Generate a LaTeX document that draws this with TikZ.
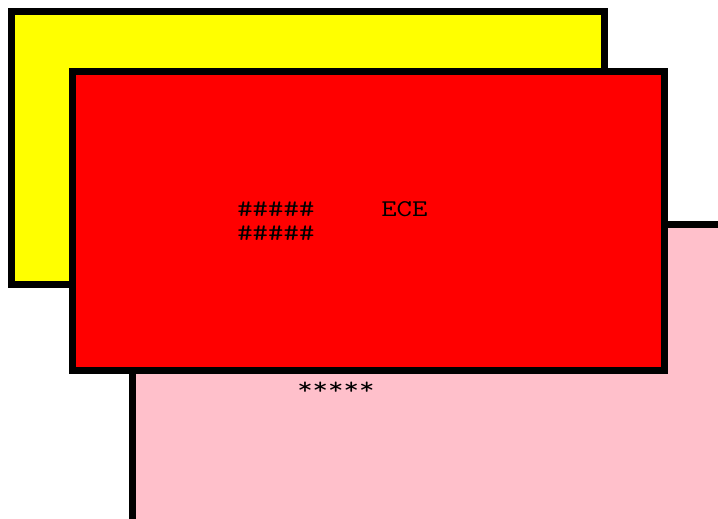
\documentclass[tikz,border=0pt]{standalone}
\usetikzlibrary{positioning}
\definecolor{panelpink}{RGB}{255,192,203}
\definecolor{panelyellow}{RGB}{255,255,0}
\definecolor{panelred}{RGB}{255,0,0}

\begin{document}
\begin{tikzpicture}[
  x=1pt, y=-1pt,
  panel/.style={draw=black, line width=7pt},
  label/.style={anchor=base west, inner sep=0pt, xscale=1.25, transform shape,
                font=\fontsize{24}{24}\selectfont\ttfamily, text=black},
]
\path[use as bounding box, clip] (0,0) rectangle (718,519);
% back to front
\draw[panel, fill=panelpink] (132,224.5) rectangle (760,560);
\draw[panel, fill=panelyellow] (11.5,11.5) rectangle (604.5,284.5);
\draw[panel, fill=panelred] (72,72) rectangle (664,370);

\node[label] (hashA) at (237,216) {\#\#\#\#\#};
\node[label] (hashB) at (237,240) {\#\#\#\#\#};
\node[label] (ece)   at (381,216) {ECE};
\node[label] (stars) at (297,394) {*****};
\end{tikzpicture}
\end{document}
